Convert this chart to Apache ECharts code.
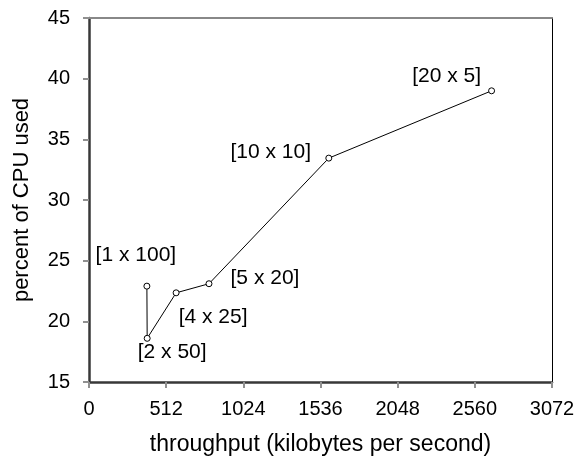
<!DOCTYPE html>
<html>
<head>
<meta charset="utf-8">
<script src="https://cdn.jsdelivr.net/npm/echarts@6/dist/echarts.min.js"></script>
<style>
  html, body { margin: 0; padding: 0; background: #fff; }
  #chart { width: 579px; height: 468px; }
</style>
</head>
<body>
<div id="chart"></div>
<script>
// configurations (threads x iterations) and measured values
const configs = ["[1 x 100]", "[2 x 50]", "[4 x 25]", "[5 x 20]", "[10 x 10]", "[20 x 5]"];
const throughput = [384, 386, 578, 796, 1591, 2671];
const cpuPercent = [22.9, 18.6, 22.35, 23.1, 33.45, 39.0];
const xTicks = [0, 512, 1024, 1536, 2048, 2560, 3072];
const yTicks = [15, 20, 25, 30, 35, 40, 45];

// label placement around each point
const labelOffsets = [[-11, -31], [25, 14], [37, 24], [56, -6], [-58, -6], [-45, -15]];

const fontFamily = "Liberation Sans, Arial, sans-serif";
const axisColor = "#383838";
const tickColor = "#909090";

const chart = echarts.init(document.getElementById("chart"));

const seriesData = throughput.map((x, i) => ({
  value: [x, cpuPercent[i]],
  name: configs[i],
  label: { offset: labelOffsets[i] },
}));

// shared bits for the main axes
function mainAxis(name, ticks, interval, gap, nameSize, labelMargin) {
  return {
    type: "value",
    min: ticks[0],
    max: ticks[ticks.length - 1],
    interval: interval,
    name: name,
    nameLocation: "middle",
    nameGap: gap,
    nameTextStyle: { color: "#000", fontSize: nameSize, fontFamily: fontFamily },
    axisLine: { lineStyle: { color: axisColor, width: 2.5 } },
    axisTick: { show: true, length: 6, lineStyle: { color: tickColor, width: 2 } },
    axisLabel: {
      color: "#000",
      fontSize: 20,
      fontFamily: fontFamily,
      margin: labelMargin,
      formatter: (v) => String(v),
    },
    splitLine: { show: false },
  };
}

// frame lines on top / right
function frameAxis(ticks, interval, position, color, width) {
  return {
    type: "value",
    position: position,
    min: ticks[0],
    max: ticks[ticks.length - 1],
    interval: interval,
    axisLine: { show: true, onZero: false, lineStyle: { color: color, width: width } },
    axisTick: { show: false },
    axisLabel: { show: false },
    splitLine: { show: false },
  };
}

const option = {
  animation: false,
  grid: {
    left: 89,
    right: 27,
    top: 18,
    bottom: 86,
  },
  xAxis: [
    mainAxis("throughput (kilobytes per second)", xTicks, 512, 51, 23, 17),
    frameAxis(xTicks, 512, "top", "#888888", 2),
  ],
  yAxis: [
    mainAxis("percent of CPU used", yTicks, 5, 56, 22, 19),
    frameAxis(yTicks, 5, "right", "#000000", 1),
  ],
  series: [
    {
      type: "line",
      data: seriesData,
      symbol: "circle",
      symbolSize: 6,
      showAllSymbol: true,
      itemStyle: { color: "#fff", borderColor: "#000", borderWidth: 1 },
      lineStyle: { color: "#000", width: 1 },
      label: {
        show: true,
        position: "inside",
        formatter: (p) => p.name,
        color: "#000",
        fontSize: 21,
        fontFamily: fontFamily,
      },
      emphasis: { disabled: true },
    },
  ],
};

chart.setOption(option);
</script>
</body>
</html>
